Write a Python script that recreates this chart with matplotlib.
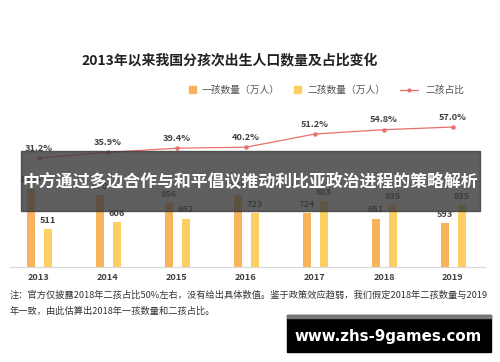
import matplotlib
matplotlib.use("Agg")
import matplotlib.pyplot as plt
from matplotlib.patches import Rectangle
from matplotlib.lines import Line2D

plt.rcParams['font.family'] = ['Noto Sans CJK SC', 'DejaVu Sans']

years = ['2013', '2014', '2015', '2016', '2017', '2018', '2019']
first_child = [1056, 970, 856, 973, 724, 651, 593]
second_child = [511, 606, 652, 723, 883, 835, 835]
second_share = [31.2, 35.9, 39.4, 40.2, 51.2, 54.8, 57.0]

title = '2013年以来我国分孩次出生人口数量及占比变化'
legend_labels = ['一孩数量（万人）', '二孩数量（万人）', '二孩占比']
note_lines = ['注：官方仅披露2018年二孩占比50%左右，没有给出具体数值。鉴于政策效应趋弱，我们假定2018年二孩数量与2019',
              '年一致，由此估算出2018年一孩数量和二孩占比。']
overlay_text = '中方通过多边合作与和平倡议推动利比亚政治进程的策略解析'
watermark = 'www.zhs-9games.com'

W, H = 500, 362
fig = plt.figure(figsize=(W / 100, H / 100), dpi=100)
fig.patch.set_facecolor('white')

def fx(px):
    return px / W

def fy(py):
    return 1 - py / H

ax = fig.add_axes([fx(10), fy(267), fx(475), (267 - 120) / H])
ax.set_xlim(-(39 - 10) / 69, 6 + (485 - 453) / 69)
ax.set_ylim(0, 147 / 0.0742)
c1 = '#F7B45C'
c2 = '#FDCF62'
x = list(range(len(years)))
off = 8.5 / 69
bw = 8 / 69
ax.bar([i - off for i in x], first_child, width=bw, color=c1, zorder=2)
ax.bar([i + off for i in x], second_child, width=bw, color=c2, zorder=2)
for i in x:
    ax.text(i - off, first_child[i] + 60, str(first_child[i]), ha='center', va='bottom',
            fontsize=6.6, fontweight='bold', color='#404040')
    ax.text(i + off, second_child[i] + 60, str(second_child[i]), ha='center', va='bottom',
            fontsize=6.6, fontweight='bold', color='#404040')
for s in ['top', 'right', 'left']:
    ax.spines[s].set_visible(False)
ax.spines['bottom'].set_color('#d9d9d9')
ax.spines['bottom'].set_linewidth(0.8)
ax.set_yticks([])
ax.set_xticks(x)
ax.set_xticklabels(years, fontsize=6.6, fontweight='bold', color='#404040')
ax.tick_params(axis='x', length=0, pad=4)
ax.patch.set_alpha(0)

ax2 = ax.twinx()
ax2.set_ylim(31.2 - (267 - 158) / 1.2, 31.2 + (158 - 120) / 1.2)
lc = '#E8706A'
ax2.plot(x, second_share, color=lc, lw=0.9, marker='o', markersize=2.2, zorder=3)
for i in x:
    ax2.text(i, second_share[i] + 4.5, f'{second_share[i]:.1f}%', ha='center', va='bottom',
             fontsize=6.6, fontweight='bold', color='#404040')
ax2.set_yticks([])
for s in ax2.spines.values():
    s.set_visible(False)

fig.text(fx(230), fy(60), title, ha='center', va='center', fontsize=10, fontweight='bold', color='#222222')

fig.patches.append(Rectangle((fx(189), fy(93)), fx(7), 7 / H, transform=fig.transFigure, color=c1))
fig.text(fx(202), fy(90), legend_labels[0], ha='left', va='center', fontsize=7, color='#555555')
fig.patches.append(Rectangle((fx(294), fy(93)), fx(7), 7 / H, transform=fig.transFigure, color=c2))
fig.text(fx(307), fy(90), legend_labels[1], ha='left', va='center', fontsize=7, color='#555555')
fig.lines.append(Line2D([fx(400), fx(418)], [fy(90), fy(90)], transform=fig.transFigure,
                        color=lc, lw=0.9))
fig.lines.append(Line2D([fx(409)], [fy(90)], transform=fig.transFigure, color=lc, marker='o', markersize=2))
fig.text(fx(425), fy(90), legend_labels[2], ha='left', va='center', fontsize=7, color='#555555')

fig.text(fx(10), fy(295), note_lines[0], ha='left', va='center', fontsize=6.65, color='#333333')
fig.text(fx(10), fy(311), note_lines[1], ha='left', va='center', fontsize=6.65, color='#333333')

fig.patches.append(Rectangle((fx(21), fy(211)), fx(459), 60 / H, transform=fig.transFigure,
                             color='#3c3c3c', alpha=0.82, zorder=10))
fig.text(fx(250), fy(181), overlay_text, ha='center', va='center', fontsize=12.2, fontweight='bold',
         color='white', zorder=11)

fig.patches.append(Rectangle((fx(287), fy(352)), fx(204), 37 / H, transform=fig.transFigure,
                             color='black', zorder=10))
fig.patches.append(Rectangle((fx(287), fy(318)), fx(204), 3 / H, transform=fig.transFigure,
                             color='#777777', zorder=11))
fig.text(fx(388), fy(337), watermark, ha='center', va='center', fontsize=10.8, fontweight='bold',
         color='white', family='DejaVu Sans', zorder=12)

fig.savefig('out.png', dpi=100)
